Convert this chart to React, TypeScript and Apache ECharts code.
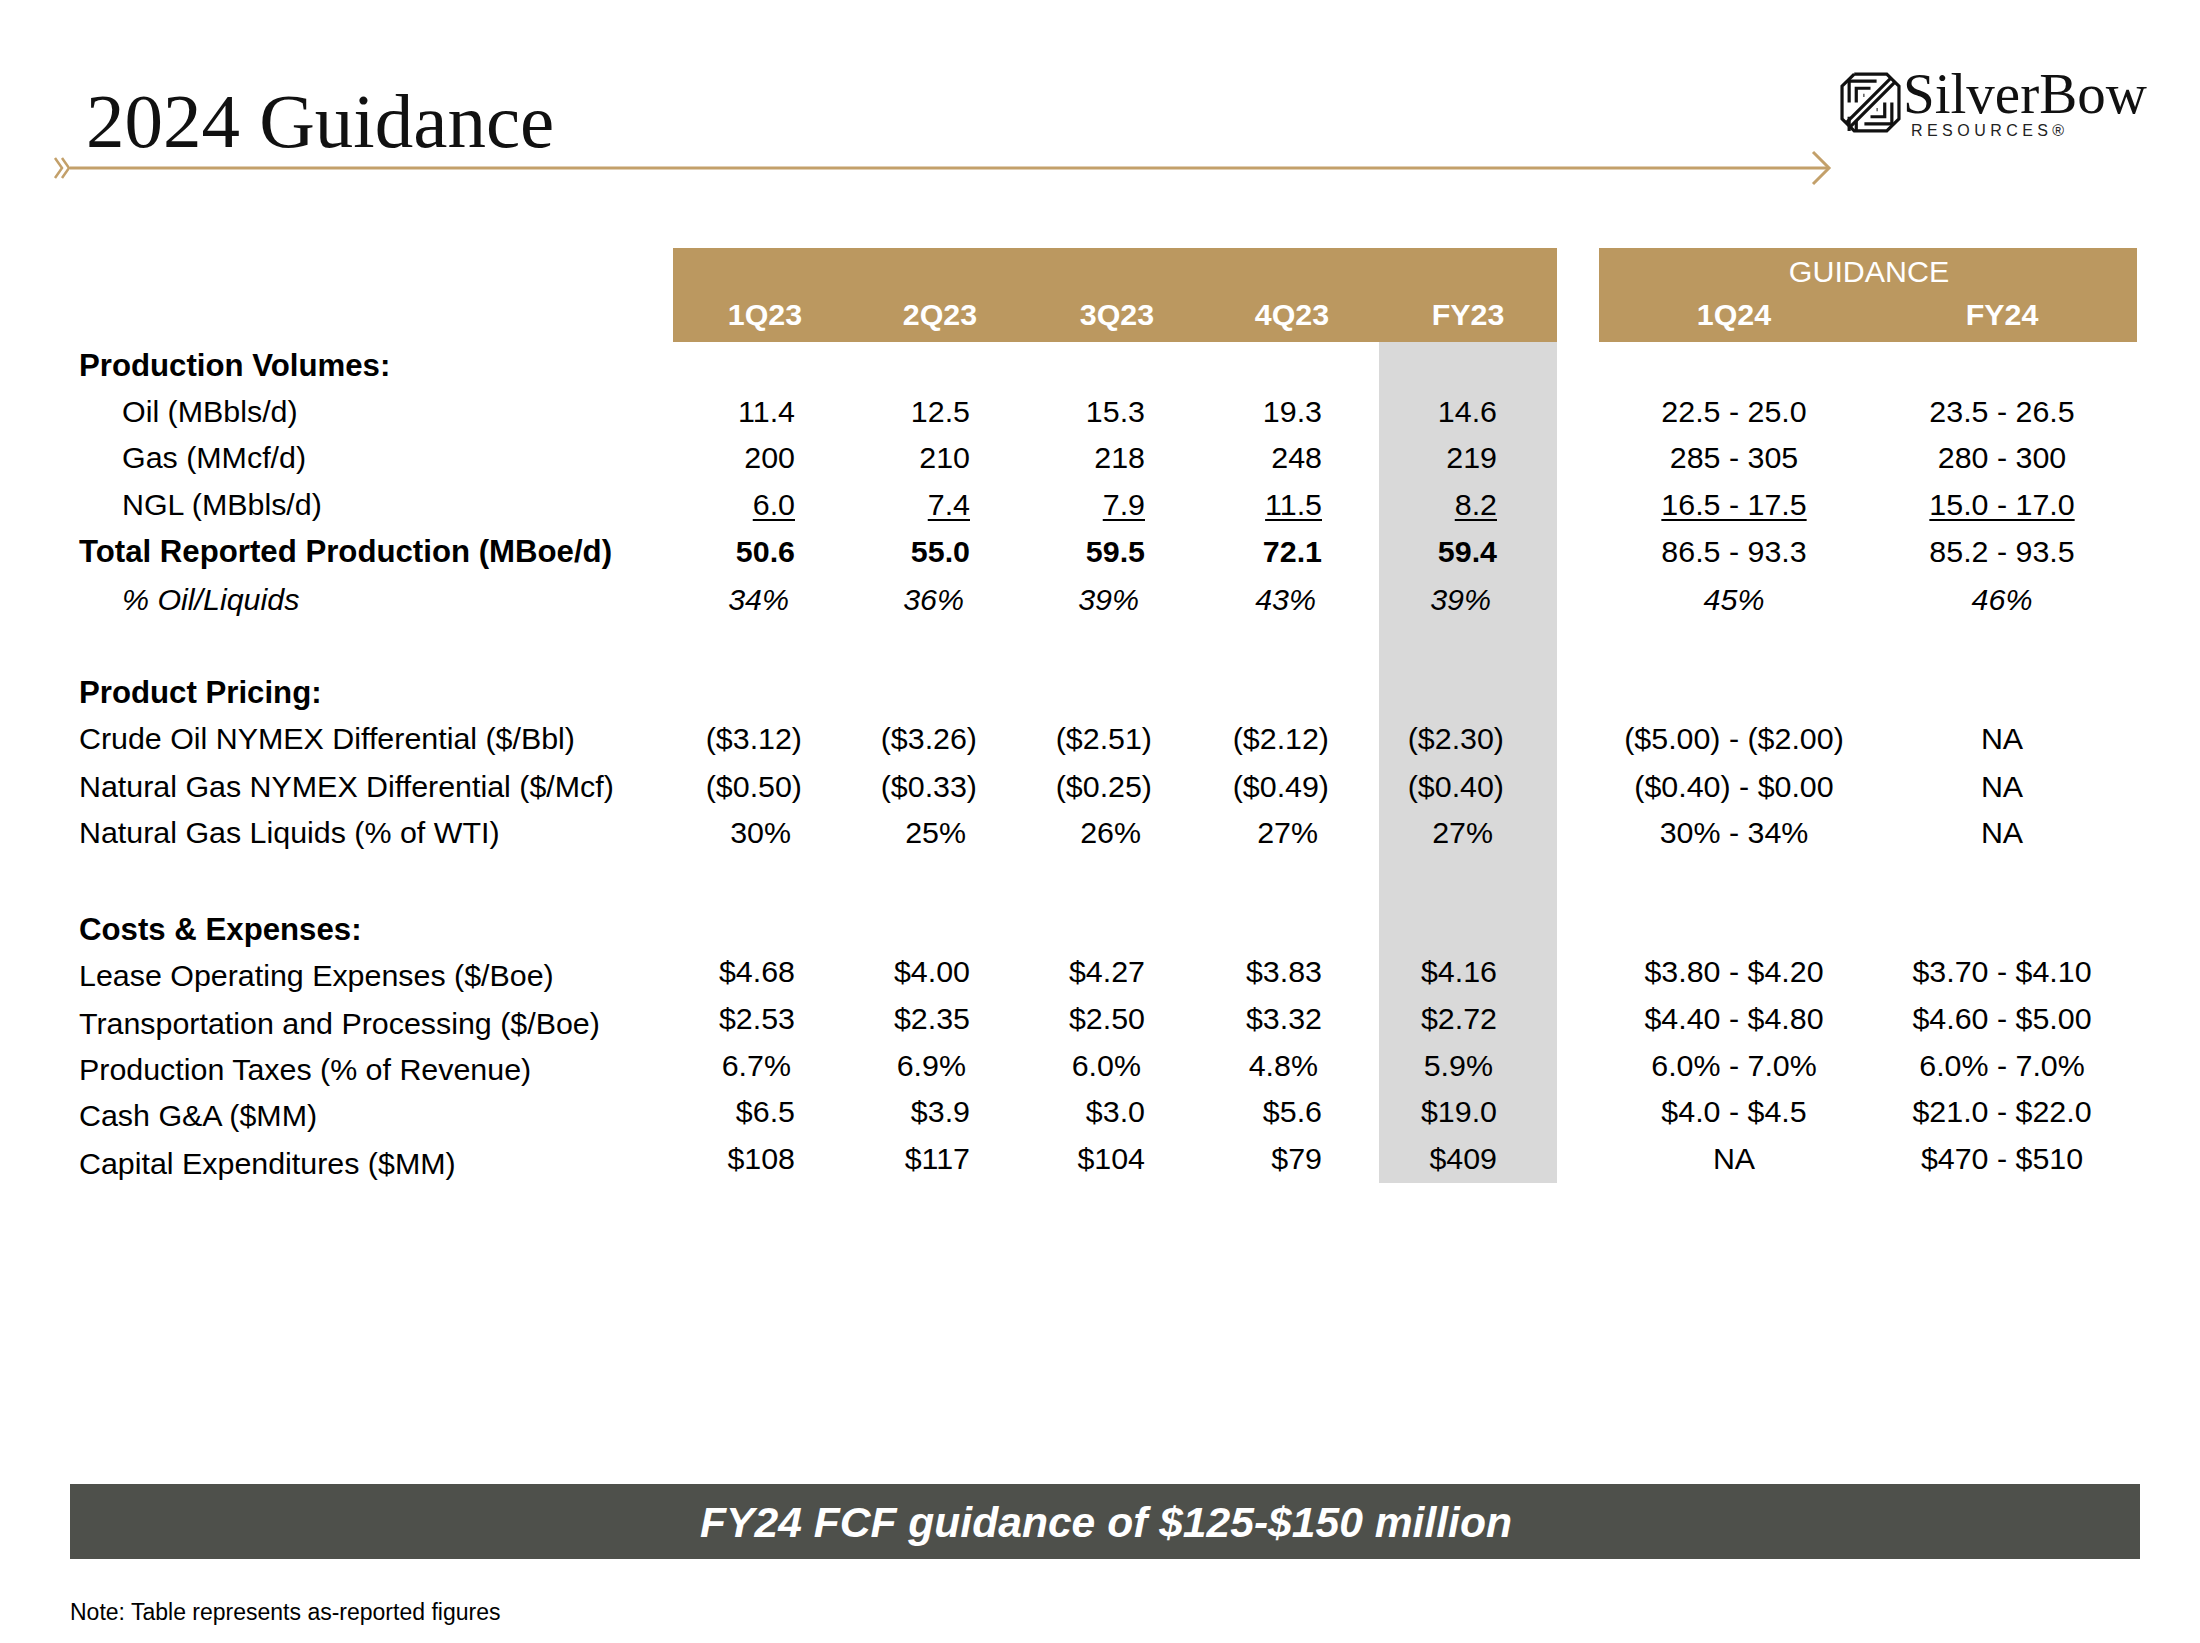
import React, { useEffect, useRef } from "react";
import * as echarts from "echarts";

const W = 2200;
const H = 1643;

// ---------- data ----------
const titleText = "2024 Guidance";
const quarterColumns = ["1Q23", "2Q23", "3Q23", "4Q23", "FY23"];
const guidanceColumns = ["1Q24", "FY24"];
const guidanceLabel = "GUIDANCE";

const oilValues = ["11.4", "12.5", "15.3", "19.3", "14.6", "22.5 - 25.0", "23.5 - 26.5"];
const gasValues = ["200", "210", "218", "248", "219", "285 - 305", "280 - 300"];
const nglValues = ["6.0", "7.4", "7.9", "11.5", "8.2", "16.5 - 17.5", "15.0 - 17.0"];
const totalValues = ["50.6", "55.0", "59.5", "72.1", "59.4", "86.5 - 93.3", "85.2 - 93.5"];
const oilPctValues = ["34%", "36%", "39%", "43%", "39%", "45%", "46%"];
const crudeDiffValues = ["($3.12)", "($3.26)", "($2.51)", "($2.12)", "($2.30)", "($5.00) - ($2.00)", "NA"];
const gasDiffValues = ["($0.50)", "($0.33)", "($0.25)", "($0.49)", "($0.40)", "($0.40) - $0.00", "NA"];
const nglPctWtiValues = ["30%", "25%", "26%", "27%", "27%", "30% - 34%", "NA"];
const loeValues = ["$4.68", "$4.00", "$4.27", "$3.83", "$4.16", "$3.80 - $4.20", "$3.70 - $4.10"];
const tpValues = ["$2.53", "$2.35", "$2.50", "$3.32", "$2.72", "$4.40 - $4.80", "$4.60 - $5.00"];
const taxValues = ["6.7%", "6.9%", "6.0%", "4.8%", "5.9%", "6.0% - 7.0%", "6.0% - 7.0%"];
const gaValues = ["$6.5", "$3.9", "$3.0", "$5.6", "$19.0", "$4.0 - $4.5", "$21.0 - $22.0"];
const capexValues = ["$108", "$117", "$104", "$79", "$409", "NA", "$470 - $510"];

const footerText = "FY24 FCF guidance of $125-$150 million";
const noteText = "Note: Table represents as-reported figures";
const logoName = "SilverBow";
const logoSub = "R E S O U R C E S ®";

// ---------- layout / style ----------
const SANS = "'Liberation Sans', Arial, Helvetica, sans-serif";
const SERIF = "'Liberation Serif', 'Times New Roman', serif";
const GOLD = "#BB9860";
const LINE_GOLD = "#C3A06A";
const GRAY = "#D9D9D9";
const DARK = "#4E504B";
const FS = 30.4;
const FS_BOLD = 31.2;

type Row = {
  label: string;
  y: number;
  values?: string[];
  section?: boolean;
  indent?: boolean;
  bold?: boolean;
  italic?: boolean;
  underline?: boolean;
  valueDy?: number;
};

const rows: Row[] = [
  { label: "Production Volumes:", y: 365, section: true },
  { label: "Oil (MBbls/d)", y: 411, values: oilValues, indent: true },
  { label: "Gas (MMcf/d)", y: 457, values: gasValues, indent: true },
  { label: "NGL (MBbls/d)", y: 504, values: nglValues, indent: true, underline: true },
  { label: "Total Reported Production (MBoe/d)", y: 551, values: totalValues, bold: true },
  { label: "% Oil/Liquids", y: 599, values: oilPctValues, indent: true, italic: true },
  { label: "Product Pricing:", y: 692, section: true },
  { label: "Crude Oil NYMEX Differential ($/Bbl)", y: 738, values: crudeDiffValues },
  { label: "Natural Gas NYMEX Differential ($/Mcf)", y: 786, values: gasDiffValues },
  { label: "Natural Gas Liquids (% of WTI)", y: 832, values: nglPctWtiValues },
  { label: "Costs & Expenses:", y: 929, section: true },
  { label: "Lease Operating Expenses ($/Boe)", y: 975, values: loeValues, valueDy: -4 },
  { label: "Transportation and Processing ($/Boe)", y: 1023, values: tpValues, valueDy: -5 },
  { label: "Production Taxes (% of Revenue)", y: 1069, values: taxValues, valueDy: -4 },
  { label: "Cash G&A ($MM)", y: 1115, values: gaValues, valueDy: -4 },
  { label: "Capital Expenditures ($MM)", y: 1163, values: capexValues, valueDy: -5 },
];

const quarterRight = [795, 970, 1145, 1322, 1497];
const quarterHeaderCenter = [765, 940, 1117, 1292, 1468];
const guidanceCenter = [1734, 2002];

let measureCtx: CanvasRenderingContext2D | null = null;
function measure(text: string, font: string): number {
  if (!measureCtx) measureCtx = document.createElement("canvas").getContext("2d");
  if (!measureCtx) return text.length * 15;
  measureCtx.font = font;
  return measureCtx.measureText(text).width;
}

function font(size: number, opts: { bold?: boolean; italic?: boolean; family?: string } = {}) {
  return `${opts.italic ? "italic " : ""}${opts.bold ? "bold " : ""}${size}px ${opts.family || SANS}`;
}

function text(
  t: string,
  x: number,
  y: number,
  f: string,
  fill = "#000",
  align = "left",
  vAlign = "middle",
  lineHeight?: number
): any {
  const style: any = {
    text: t,
    font: f,
    fill,
    textAlign: align,
    textVerticalAlign: vAlign,
    align,
    verticalAlign: vAlign,
  };
  if (lineHeight) style.lineHeight = lineHeight;
  return { type: "text", x, y, silent: true, style };
}

function line(x1: number, y1: number, x2: number, y2: number, stroke: string, w: number): any {
  return { type: "line", silent: true, shape: { x1, y1, x2, y2 }, style: { stroke, lineWidth: w } };
}

function poly(points: number[][], stroke: string, w: number): any {
  return {
    type: "polyline",
    silent: true,
    shape: { points },
    style: { stroke, lineWidth: w, fill: "none", lineJoin: "miter", lineCap: "butt" },
  };
}

function buildElements(): any[] {
  const els: any[] = [];

  // background
  els.push({ type: "rect", silent: true, shape: { x: 0, y: 0, width: W, height: H }, style: { fill: "#fff" } });

  // title
  els.push(text(titleText, 86, 121, font(77, { family: SERIF }), "#111"));

  // arrow rule
  els.push(poly([[55, 158], [62, 168], [55, 178]], LINE_GOLD, 2.5));
  els.push(poly([[62, 158], [69, 168], [62, 178]], LINE_GOLD, 2.5));
  els.push(line(70, 168, 1829, 168, LINE_GOLD, 3));
  els.push(poly([[1813, 152], [1829, 168], [1813, 184]], LINE_GOLD, 3));

  // logo icon (simplified)
  const ox = 1840, oy = 72, s = 61 / 60;
  const P = (pts: number[][]) => pts.map(([a, b]) => [ox + a * s, oy + b * s]);
  els.push(poly(P([[14, 2], [46, 2], [58, 14], [58, 46], [46, 58], [14, 58], [2, 46], [2, 14], [14, 2]]), "#111", 3.2));
  els.push(poly(P([[6, 50], [50, 6]]), "#111", 3.2));
  els.push(poly(P([[10, 54], [54, 10]]), "#111", 3.2));
  els.push(poly(P([[36, 9], [9, 9], [9, 30]]), "#111", 3.2));
  els.push(poly(P([[30, 16], [16, 16], [16, 30]]), "#111", 3.2));
  els.push(poly(P([[24, 23], [23, 23]]), "#111", 3.2));
  els.push(poly(P([[24, 51], [51, 51], [51, 30]]), "#111", 3.2));
  els.push(poly(P([[30, 44], [44, 44], [44, 30]]), "#111", 3.2));
  els.push(poly(P([[36, 37], [37, 37]]), "#111", 3.2));
  els.push(poly(P([[9, 44], [9, 58]]), "#111", 3.2));
  els.push(poly(P([[16, 48], [16, 58]]), "#111", 3.2));

  // logo wordmark
  els.push(text(logoName, 1903, 93, font(57, { family: SERIF }), "#111", "left", "middle", 57));
  els.push(text(logoSub, 1911, 130, font(16), "#222", "left", "middle", 16));

  // header bands
  els.push({ type: "rect", silent: true, shape: { x: 673, y: 248, width: 884, height: 94 }, style: { fill: GOLD } });
  els.push({ type: "rect", silent: true, shape: { x: 1599, y: 248, width: 538, height: 94 }, style: { fill: GOLD } });
  // FY23 shaded column
  els.push({ type: "rect", silent: true, shape: { x: 1379, y: 342, width: 178, height: 841 }, style: { fill: GRAY } });

  quarterColumns.forEach((c, i) => {
    els.push(text(c, quarterHeaderCenter[i], 314, font(FS, { bold: true }), "#fff", "center"));
  });
  els.push(text(guidanceLabel, 1869, 271, font(FS), "#fff", "center"));
  guidanceColumns.forEach((c, i) => {
    els.push(text(c, guidanceCenter[i], 314, font(FS, { bold: true }), "#fff", "center"));
  });

  // rows
  rows.forEach((r) => {
    const lx = r.indent ? 122 : 79;
    const isBold = r.section || r.bold;
    const lf = font(isBold ? FS_BOLD : FS, { bold: isBold, italic: r.italic });
    els.push(text(r.label, lx, r.y, lf));
    if (!r.values) return;
    const vy = r.y + (r.valueDy || 0);
    r.values.forEach((v, i) => {
      if (i < 5) {
        const vf = font(FS, { bold: r.bold, italic: r.italic });
        let right = quarterRight[i];
        if (v.endsWith(")")) right += 7;
        else if (v.endsWith("%")) right -= r.italic ? 6 : 4;
        els.push(text(v, right, vy, vf, "#000", "right"));
        if (r.underline) {
          const w = measure(v, vf);
          els.push(line(right - w, vy + 16, right, vy + 16, "#000", 2));
        }
      } else {
        const vf = font(FS, { italic: r.italic });
        const c = guidanceCenter[i - 5];
        els.push(text(v, c, vy, vf, "#000", "center"));
        if (r.underline) {
          const w = measure(v, vf);
          els.push(line(c - w / 2, vy + 16, c + w / 2, vy + 16, "#000", 2));
        }
      }
    });
  });

  // footer band
  els.push({ type: "rect", silent: true, shape: { x: 70, y: 1484, width: 2070, height: 75 }, style: { fill: DARK } });
  els.push(text(footerText, 1106, 1522, font(42.6, { bold: true, italic: true }), "#fff", "center"));

  // note
  els.push(text(noteText, 70, 1612, font(23)));

  return els;
}

export default function App() {
  const ref = useRef<HTMLDivElement>(null);
  useEffect(() => {
    document.body.style.margin = "0";
    document.body.style.overflow = "hidden";
    if (!ref.current) return;
    const chart = echarts.init(ref.current, null, { renderer: "svg", width: W, height: H });
    chart.setOption({
      animation: false,
      backgroundColor: "#fff",
      graphic: { elements: buildElements() },
    });
    return () => chart.dispose();
  }, []);
  return <div ref={ref} style={{ width: W, height: H, background: "#fff" }} />;
}
